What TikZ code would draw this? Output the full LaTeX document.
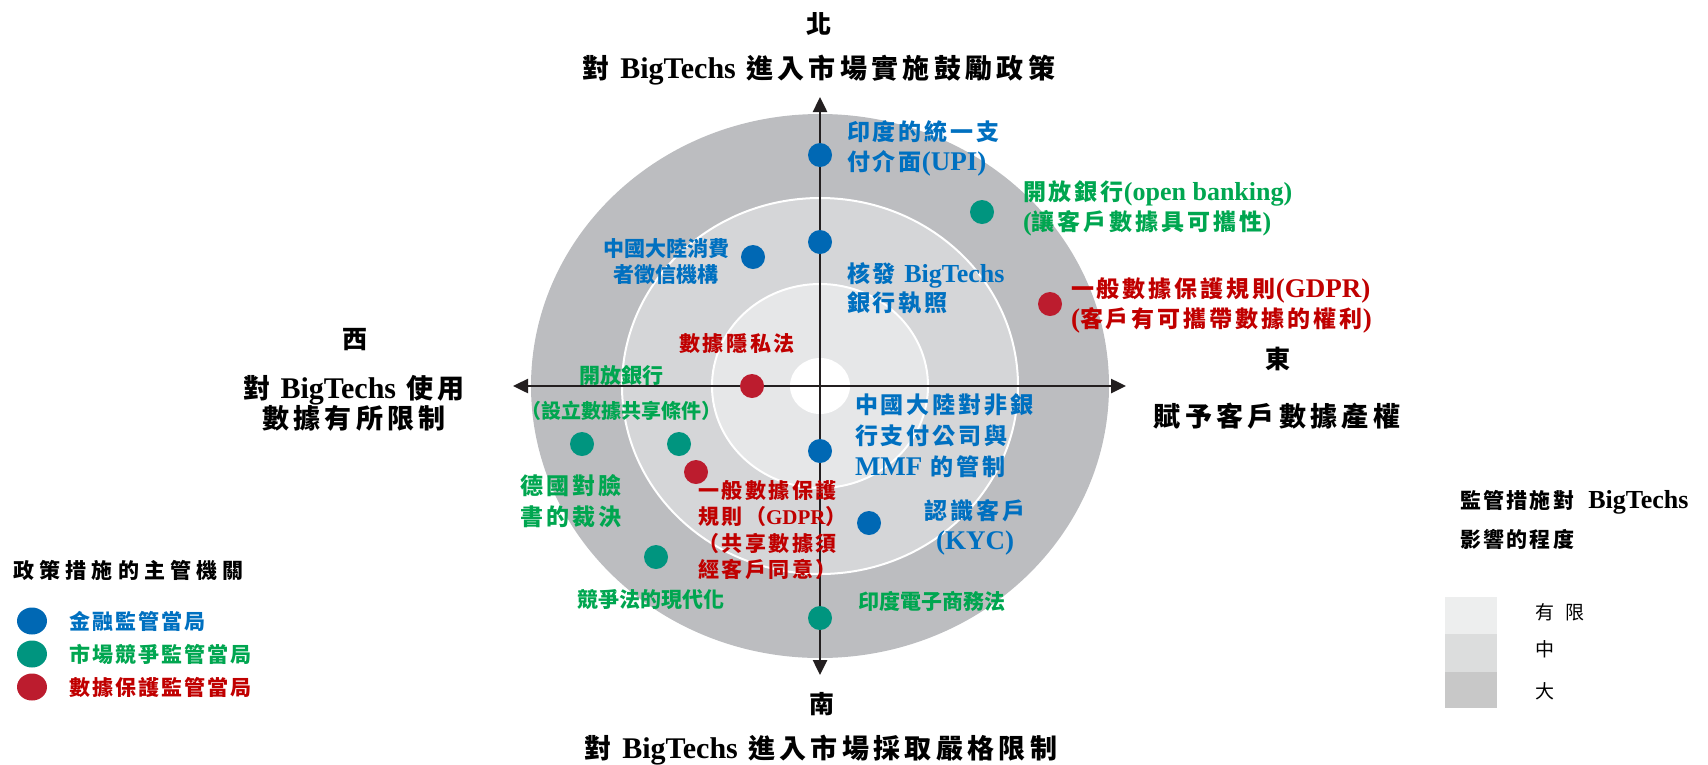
\documentclass[tikz,border=0pt]{standalone}
\usepackage{fontspec}
\setmainfont{Liberation Serif}
\newfontfamily\cjkfont{Noto Sans CJK TC}
\newfontfamily\tmsfont{Liberation Serif}
\usetikzlibrary{arrows.meta,shapes.geometric}
\newcommand\tms[2]{{\fontsize{#1}{#1}\selectfont\tmsfont\bfseries #2}}
\newcommand\cjkset[3]{\cjkfont\bfseries\fontsize{#1}{#2}\selectfont\addfontfeature{LetterSpace=#3}}
\newcommand\cjkreg[3]{\cjkfont\mdseries\fontsize{#1}{#2}\selectfont\addfontfeature{LetterSpace=#3}}
\definecolor{txtblue}{HTML}{0070C0}
\definecolor{txtgreen}{HTML}{00A650}
\definecolor{txtred}{HTML}{C00000}
\definecolor{dotblue}{HTML}{0068B4}
\definecolor{dotgreen}{HTML}{00957F}
\definecolor{dotred}{HTML}{BC1C2E}
\definecolor{ringA}{HTML}{BCBDC0}
\definecolor{ringB}{HTML}{D5D6D8}
\definecolor{ringC}{HTML}{E6E7E8}
\definecolor{legA}{HTML}{EDEEEE}
\definecolor{legB}{HTML}{DCDDDD}
\definecolor{legC}{HTML}{C8C8C8}
\definecolor{axisc}{HTML}{231F20}
\tikzset{
  every node/.style={inner sep=0pt, outer sep=0pt},
  dot/.style={circle, minimum size=24pt, draw=none},
  legdot/.style={ellipse, minimum width=30pt, minimum height=27pt, draw=none},
  axisline/.style={draw=axisc, line width=2.5pt, {Triangle[length=15pt,width=14pt]}-{Triangle[length=15pt,width=14pt]}},
  dirlbl/.style={font={\cjkset{25}{28}{0}}, text=black},
  axtitle/.style={font={\cjkset{27}{30}{16}}, text=black, align=center},
  lblA/.style={font={\cjkset{23}{30}{13}}, align=left},
  lblT/.style={font={\cjkset{21}{26}{0}}},
  legbox/.style={minimum width=52pt, draw=none},
}
\begin{document}
\begin{tikzpicture}[x=1pt,y=-1pt]
\useasboundingbox (0,0) rectangle (1708,764);
% rings
\coordinate (O) at (820,386);
\fill[ringA] (O) ellipse [x radius=289pt, y radius=272pt];
\fill[ringB] (O) ellipse [x radius=198pt, y radius=188pt];
\draw[white, line width=2pt] (O) ellipse [x radius=198pt, y radius=188pt];
\fill[ringC] (O) ellipse [x radius=108pt, y radius=102pt];
\draw[white, line width=2pt] (O) ellipse [x radius=108pt, y radius=102pt];
\fill[white] (O) ellipse [x radius=30pt, y radius=28pt];
% axes
\coordinate (W) at (513,386);
\coordinate (E) at (1126,386);
\coordinate (N) at (820,97);
\coordinate (S) at (820,675);
\draw[axisline] (W) -- (E);
\draw[axisline] (S) -- (N);
% direction labels
\node[dirlbl] (north) at (819,24) {北};
\node[axtitle] (ntitle) at (819,70) {對 \tms{30}{BigTechs} 進入市場實施鼓勵政策};
\node[dirlbl] (south) at (822,704) {南};
\node[axtitle] (stitle) at (821,750) {對 \tms{30}{BigTechs} 進入市場採取嚴格限制};
\node[dirlbl] (west) at (355,340) {西};
\node[axtitle] (wtitle) at (354,403) {對 \tms{30}{BigTechs} 使用\\數據有所限制};
\node[dirlbl] (east) at (1278,359) {東};
\node[axtitle] (etitle) at (1277,416) {賦予客戶數據產權};
% dots
\node[dot, fill=dotblue] (d1) at (820,155) {};
\node[dot, fill=dotblue] (d2) at (820,242) {};
\node[dot, fill=dotblue] (d3) at (753,257) {};
\node[dot, fill=dotgreen] (d4) at (982,212) {};
\node[dot, fill=dotred] (d5) at (1050,304) {};
\node[dot, fill=dotred] (d6) at (752,386) {};
\node[dot, fill=dotgreen] (d7) at (582,444) {};
\node[dot, fill=dotgreen] (d8) at (679,444) {};
\node[dot, fill=dotred] (d9) at (696,472) {};
\node[dot, fill=dotblue] (d10) at (820,451) {};
\node[dot, fill=dotblue] (d11) at (869,523) {};
\node[dot, fill=dotgreen] (d12) at (656,557) {};
\node[dot, fill=dotgreen] (d13) at (820,618) {};
% labels
\node[lblA, text=txtblue, anchor=west] (upi) at (847,148) {印度的統一支\\付介面\tms{27}{(UPI)}};
\node[lblA, text=txtgreen, anchor=west] (ob) at (1023,208) {開放銀行\tms{26}{(open banking)}\\\tms{26}{(}讓客戶數據具可攜性\tms{26}{)}};
\node[lblT, text=txtblue, align=center] (cncredit) at (666,262) {中國大陸消費\\者徵信機構};
\node[lblA, text=txtblue, anchor=west, font={\cjkset{23}{29}{13}}] (lic) at (847,288) {核發 \tms{26}{BigTechs}\\銀行執照};
\node[lblA, text=txtred, anchor=west] (gdprA) at (1071,305) {一般數據保護規則\tms{27}{(GDPR)}\\\tms{27}{(}客戶有可攜帶數據的權利\tms{27}{)}};
\node[lblT, text=txtred, font={\cjkset{21}{26}{12}}] (priv) at (737,344) {數據隱私法};
\node[lblT, text=txtgreen] (obB) at (621,375) {開放銀行};
\node[lblT, text=txtgreen, font={\cjkset{20}{26}{0}}] (share) at (621,411) {（設立數據共享條件）};
\node[lblA, text=txtgreen, align=center, font={\cjkset{23}{31}{13}}] (de) at (571,501) {德國對臉\\書的裁決};
\node[lblA, text=txtred, anchor=west, font={\cjkset{21}{26.5}{12}}] (gdprB) at (698,530) {一般數據保護\\規則（\tms{21}{GDPR}）\\（共享數據須\\經客戶同意）};
\node[lblA, text=txtblue, anchor=west, font={\cjkset{23}{31}{13}}] (mmf) at (855,436) {中國大陸對非銀\\行支付公司與\\\tms{27}{MMF} 的管制};
\node[lblA, text=txtblue, align=center] (kyc) at (975,527) {認識客戶\\\tms{27}{(KYC)}};
\node[lblT, text=txtgreen] (comp) at (651,600) {競爭法的現代化};
\node[lblT, text=txtgreen] (ecom) at (932,601) {印度電子商務法};
% left legend
\node[font={\cjkset{21}{26}{25}}, text=black, anchor=west] (lgtitle) at (13,570) {政策措施的主管機關};
\node[legdot, fill=dotblue] (lgd1) at (32,621) {};
\node[legdot, fill=dotgreen] (lgd2) at (32,654) {};
\node[legdot, fill=dotred] (lgd3) at (32,687) {};
\node[font={\cjkset{21}{26}{10}}, text=txtblue, anchor=west] (lgt1) at (69,621) {金融監管當局};
\node[font={\cjkset{21}{26}{10}}, text=txtgreen, anchor=west] (lgt2) at (69,654) {市場競爭監管當局};
\node[font={\cjkset{21}{26}{10}}, text=txtred, anchor=west] (lgt3) at (69,687) {數據保護監管當局};
% right legend
\node[font={\cjkset{21}{39}{11}}, text=black, anchor=west, align=left] (rgtitle) at (1460,520) {監管措施對\hspace{14pt}\tms{26}{BigTechs}\\影響的程度};
\node[legbox, fill=legA, minimum height=37pt] (bx1) at (1471,615.5) {};
\node[legbox, fill=legB, minimum height=38pt] (bx2) at (1471,653) {};
\node[legbox, fill=legC, minimum height=36pt] (bx3) at (1471,690) {};
\node[font={\cjkreg{19}{24}{0}}, text=black, anchor=west] (bt1) at (1535,612) {有\hspace{11pt}限};
\node[font={\cjkreg{19}{24}{0}}, text=black, anchor=west] (bt2) at (1535,649) {中};
\node[font={\cjkreg{19}{24}{0}}, text=black, anchor=west] (bt3) at (1535,691) {大};
\end{tikzpicture}
\end{document}
